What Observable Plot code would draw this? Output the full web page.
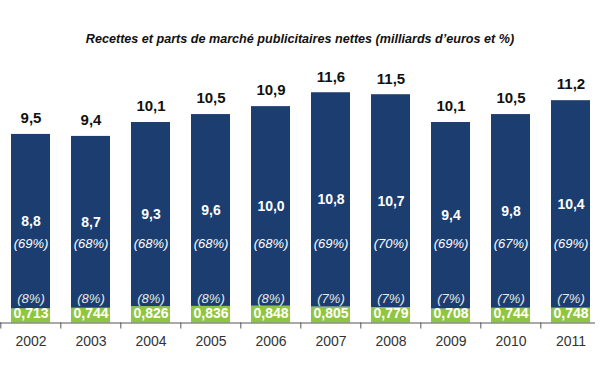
<!DOCTYPE html>
<html>
<head>
<meta charset="utf-8">
<script src="https://cdn.jsdelivr.net/npm/d3@7"></script>
<script src="https://cdn.jsdelivr.net/npm/@observablehq/plot@0.6"></script>
<style>
  html, body { margin: 0; padding: 0; background: #fff; }
  body { width: 600px; height: 372px; overflow: hidden; font-family: "Liberation Sans", Arial, sans-serif; }
  #title { height: 60px; box-sizing: border-box; padding-top: 31px; line-height: 16px; font-size: 12.6px; font-weight: bold; font-style: italic; text-align: center; color: #111; }
</style>
</head>
<body>
<div id="title">Recettes et parts de marché publicitaires nettes (milliards d’euros et %)</div>
<div id="chart"></div>
<script>
const years = ["2002","2003","2004","2005","2006","2007","2008","2009","2010","2011"];
const totals = [9.5, 9.4, 10.1, 10.5, 10.9, 11.6, 11.5, 10.1, 10.5, 11.2];
const mainValues = [8.8, 8.7, 9.3, 9.6, 10.0, 10.8, 10.7, 9.4, 9.8, 10.4];
const mainShares = [69, 68, 68, 68, 68, 69, 70, 69, 67, 69];
const greenValues = [0.713, 0.744, 0.826, 0.836, 0.848, 0.805, 0.779, 0.708, 0.744, 0.748];
const greenShares = [8, 8, 8, 8, 8, 7, 7, 7, 7, 7];

const BLUE = "#1b3d6f";
const GREEN = "#8fc641";

const rows = years.map((y, i) => ({
  year: y, total: totals[i], main: mainValues[i], mainShare: mainShares[i],
  green: greenValues[i], greenShare: greenShares[i]
}));
const stacked = rows.flatMap(d => [
  {year: d.year, part: "segment A", value: d.green},
  {year: d.year, part: "segment B", value: d.total - d.green}
]);

const dec1 = v => v.toFixed(1).replace(".", ",");
const dec3 = v => v.toFixed(3).replace(".", ",");
const font = "Liberation Sans, Arial, sans-serif";

const step = 60.37;
const chart = Plot.plot({
  width: 600,
  height: 312,
  marginLeft: 0,
  marginRight: 5,
  marginTop: 24.3,
  marginBottom: 49.5,
  style: {fontFamily: font, background: "#fff"},
  x: {domain: years, range: [-1.0, 602.7], paddingInner: 0.35, paddingOuter: 0.175, label: null},
  y: {domain: [0, 12], axis: null},
  color: {domain: ["segment A", "segment B"], range: [GREEN, BLUE]},
  marks: [
    Plot.barY(stacked, {x: "year", y: "value", fill: "part", order: ["segment A", "segment B"]}),
    Plot.ruleY([0], {stroke: "#555", strokeWidth: 1}),
    Plot.axisX({tickSize: 6, tickFormat: () => "", dx: -step / 2, stroke: "#555", strokeWidth: 1, label: null}),
    Plot.axisX({tickSize: 0, tickPadding: 13, fontSize: 14, fill: "#333", tickFormat: d => d, label: null}),
    Plot.text(rows, {x: "year", y: "total", text: d => dec1(d.total), dy: -16, fontSize: 15, fontWeight: "bold", fill: "#111"}),
    Plot.text(rows, {x: "year", y: d => (d.green + d.total) / 2, text: d => dec1(d.main), fontSize: 14, fontWeight: "bold", fill: "#fff"}),
    Plot.text(rows, {x: "year", frameAnchor: "bottom", dy: -75.3, text: d => `(${d.mainShare}%)`, fontSize: 13, fontStyle: "italic", fill: "#fff"}),
    Plot.text(rows, {x: "year", frameAnchor: "bottom", dy: -20.3, text: d => `(${d.greenShare}%)`, fontSize: 13, fontStyle: "italic", fill: "#e6e6e6"}),
    Plot.text(rows, {x: "year", frameAnchor: "bottom", dy: -5.3, text: d => dec3(d.green), fontSize: 14, fontWeight: "bold", fill: "#fff"})
  ]
});
document.getElementById("chart").appendChild(chart);
</script>
</body>
</html>
